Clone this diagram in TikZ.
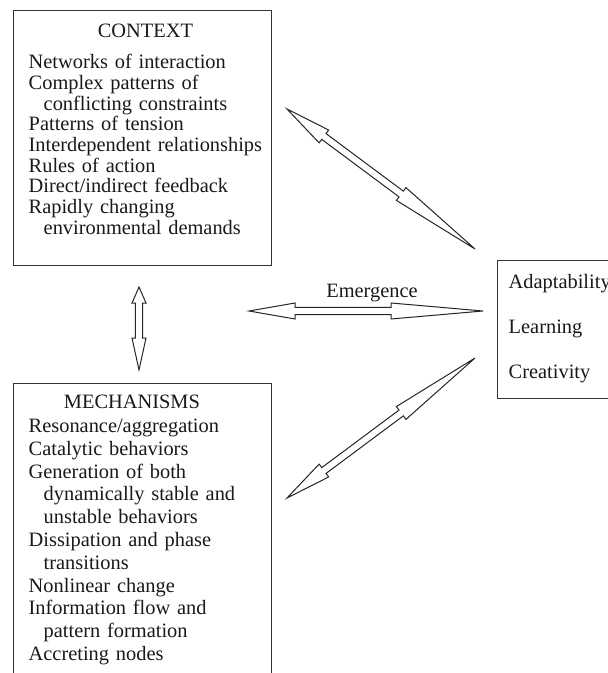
\documentclass[tikz,border=0pt]{standalone}
\usepackage{fontspec}
\setmainfont{Liberation Serif}
\usepackage{tikz}
\usetikzlibrary{positioning,calc}

\newcommand{\boxfont}{\fontsize{10.2}{10.35}\selectfont}

% hollow double headed arrow between two named coordinates
% #3 = head length, #4 = half width of the head (both in px)
\newcommand{\hollowarrow}[4]{%
  \draw[arrowline] let \p1=($(#2)-(#1)$), \n1={atan2(\y1,\x1)}, \n2={veclen(\x1,\y1)} in
    [shift={(#1)}, rotate=\n1]
    (0,0) -- (#3,#4) -- (#3,3.6) -- ({\n2-#3},3.6) -- ({\n2-#3},#4) -- (\n2,0)
    -- ({\n2-#3},-#4) -- ({\n2-#3},-3.6) -- (#3,-3.6) -- (#3,-#4) -- cycle;}

\begin{document}
\begin{tikzpicture}[x=0.5pt,y=-0.5pt,
    box/.style={draw=black!80, line width=0.7pt, inner xsep=7.5pt, text width=114pt,
                anchor=north west, font=\boxfont, text=black!90},
    arrowline/.style={draw=black!85, line width=0.5pt, fill=white, line join=miter},
    label/.style={font=\boxfont, text=black!90, inner sep=0pt}]
    \useasboundingbox (0,0) rectangle (608,673);
    \clip (0,0) rectangle (608,673);

    \node[box, inner ysep=6.25pt] (context) at (13,10) {%
      \begin{tabular}{@{}l@{}}
        \multicolumn{1}{@{}c@{}}{CONTEXT}\\[5.15pt]
        Networks of interaction\\
        Complex patterns of\\
        \hspace*{7.5pt}conflicting constraints\\
        Patterns of tension\\
        Interdependent relationships\\
        Rules of action\\
        Direct/indirect feedback\\
        Rapidly changing\\
        \hspace*{7.5pt}environmental demands\\[6.35pt]
      \end{tabular}};

    \node[box, inner ysep=4.6pt] (mechanisms) at (13,383) {%
      \renewcommand{\arraystretch}{1.1}%
      \begin{tabular}{@{}l@{}}
        \multicolumn{1}{@{}c@{}}{MECHANISMS}\\[0.5pt]
        Resonance/aggregation\\
        Catalytic behaviors\\
        Generation of both\\
        \hspace*{7.5pt}dynamically stable and\\
        \hspace*{7.5pt}unstable behaviors\\
        Dissipation and phase\\
        \hspace*{7.5pt}transitions\\
        Nonlinear change\\
        Information flow and\\
        \hspace*{7.5pt}pattern formation\\
        Accreting nodes\\[20pt]
      \end{tabular}};

    \node[box, text width=, inner xsep=5.5pt, inner ysep=6.75pt] (outcomes) at (497,260) {%
      \begin{tabular}{@{}l@{}}
        Adaptability\\[12.15pt]
        Learning\\[12.15pt]
        Creativity
      \end{tabular}};

    \node[label] (emergence) at (372,293) {Emergence};

    % arrow ends
    \coordinate (ctxtip) at (287,109);
    \coordinate (outtop) at (475,249);
    \coordinate (emleft) at (249,311);
    \coordinate (emright) at (483,311);
    \coordinate (vtop) at (139,287);
    \coordinate (vbottom) at (139,370);
    \coordinate (mechtip) at (287,498);
    \coordinate (outbottom) at (475,358);

    \hollowarrow{ctxtip}{outtop}{46}{8}
    \hollowarrow{emleft}{emright}{46}{8}
    \hollowarrow{vtop}{vbottom}{16}{7}
    \hollowarrow{mechtip}{outbottom}{46}{8}
\end{tikzpicture}
\end{document}
